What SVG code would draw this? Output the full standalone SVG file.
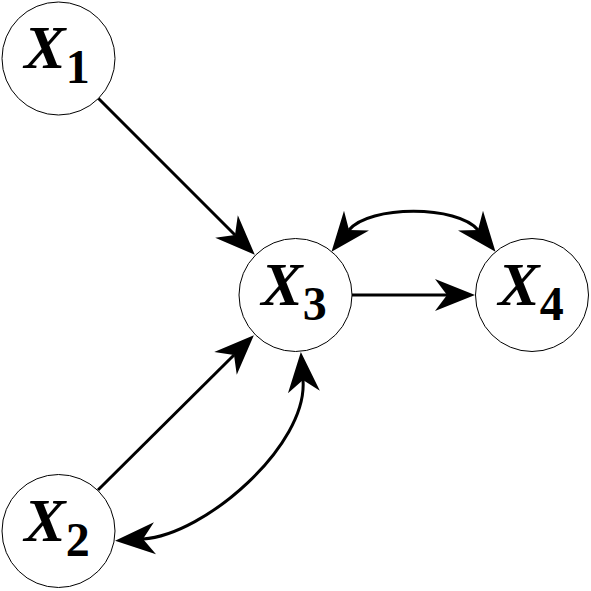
<svg xmlns="http://www.w3.org/2000/svg" width="591" height="591" viewBox="0 0 591 591">
<style>
.node circle{fill:#fff;stroke:#000;stroke-width:1}
.lbl{font-family:"Liberation Serif","DejaVu Serif",serif;font-weight:bold;fill:#000}
.v{font-style:italic;font-size:62px}
.s{font-size:48px;font-style:normal}
.edge{fill:none;stroke:#000;stroke-width:3}
</style>
<defs>
<marker id="ah" viewBox="-2 -18 44 36" refX="12" refY="0" markerWidth="44" markerHeight="36" markerUnits="userSpaceOnUse" orient="auto-start-reverse">
<path d="M0,-16 L40,0 L0,16 L12,0 Z" fill="#000"/>
</marker>
</defs>
<g id="edges">
<path class="edge" d="M98,98 L235,235" marker-end="url(#ah)"/>
<path class="edge" d="M98,490 L234,355" marker-end="url(#ah)"/>
<path class="edge" d="M352,295 L447,295" marker-end="url(#ah)"/>
<path class="edge" d="M349,230 C369,205 458,205 478,230" marker-start="url(#ah)" marker-end="url(#ah)"/>
<path class="edge" d="M143,539 C205,535 308,445 303,380" marker-start="url(#ah)" marker-end="url(#ah)"/>
</g>
<g id="X1" class="node"><circle cx="58.5" cy="58.5" r="56.5"/><text class="lbl" x="57" y="68" text-anchor="middle"><tspan class="v">X</tspan><tspan class="s" dy="15">1</tspan></text></g>
<g id="X2" class="node"><circle cx="58.5" cy="531" r="56.5"/><text class="lbl" x="57" y="541" text-anchor="middle"><tspan class="v">X</tspan><tspan class="s" dy="15">2</tspan></text></g>
<g id="X3" class="node"><circle cx="295.5" cy="295" r="56.5"/><text class="lbl" x="294" y="305" text-anchor="middle"><tspan class="v">X</tspan><tspan class="s" dy="15">3</tspan></text></g>
<g id="X4" class="node"><circle cx="532" cy="295" r="56.5"/><text class="lbl" x="531" y="305" text-anchor="middle"><tspan class="v">X</tspan><tspan class="s" dy="15">4</tspan></text></g>
</svg>
